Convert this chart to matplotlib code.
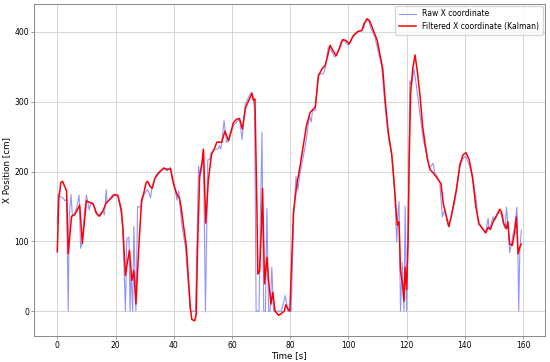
import matplotlib
matplotlib.use("Agg")
import matplotlib.pyplot as plt

raw_t = [0.0, 0.3, 1.0, 2.0, 2.6, 3.2, 3.75, 4.1, 4.7, 5.2, 6.5, 7.5, 8.0, 8.6, 9.4, 10.0,
         11.0, 11.6, 12.7, 14.0, 15.0, 15.6, 16.2, 16.8, 17.1, 17.9, 19.0, 20.8, 22.0, 22.5,
         23.4, 23.9, 24.6, 25.0, 25.3, 25.9, 26.3, 27.0, 27.6, 28.2, 28.6, 29.8, 30.9, 31.5,
         32.0, 32.6, 33.7, 34.8, 35.5, 36.4, 37.7, 38.9, 39.4, 40.0, 40.6, 41.1, 41.7, 42.3,
         42.8, 44.0, 45.1, 45.7, 46.8, 47.5, 48.5, 49.1, 49.7, 50.2, 50.9, 51.7, 52.3, 52.9,
         54.0, 55.2, 55.7, 56.2, 57.3, 58.1, 58.8, 60.5, 61.6, 62.6, 63.5, 64.0, 64.6, 66.6,
         67.4, 67.8, 68.3, 68.9, 69.3, 69.8, 70.3, 70.9, 71.5, 72.0, 72.6, 73.1, 73.7, 74.3,
         75.5, 77.0, 78.3, 79.2, 80.3, 81.3, 82.0, 82.7, 83.2, 84.3, 85.4, 86.6, 87.2, 87.7,
         88.6, 89.7, 91.4, 92.0, 93.1, 94.0, 95.4, 96.6, 97.7, 98.9, 100.0, 101.1, 102.9,
         104.6, 105.4, 106.1, 106.9, 108.0, 109.1, 110.3, 111.4, 112.6, 113.7, 114.9, 115.7,
         116.6, 117.0, 117.4, 117.9, 118.5, 119.1, 119.5, 120.0, 120.5, 121.1, 121.7, 122.5,
         123.2, 124.0, 124.8, 125.7, 126.9, 128.0, 129.1, 129.7, 130.5, 131.4, 132.3, 133.1,
         134.3, 135.4, 136.6, 138.3, 139.4, 140.3, 141.7, 142.9, 144.0, 144.6, 145.7, 146.9,
         147.4, 148.0, 148.3, 149.1, 149.7, 150.3, 151.4, 152.0, 152.6, 153.4, 153.9, 154.3,
         154.9, 155.4, 156.0, 156.6, 157.1, 157.9, 158.3, 158.5, 158.9, 159.4]
raw_x = [126, 168, 164, 162, 158, 160, 0, 136, 167, 136, 145, 166, 90, 99, 145, 166,
         145, 155, 150, 136, 141, 143, 138, 174, 155, 160, 167, 165, 140, 116,
         0, 104, 106, 0, 58, 0, 121, 0, 150, 149, 150, 167, 174, 170,
         162, 179, 191, 196, 200, 204, 201, 206, 189, 184, 172, 159, 172, 143,
         123, 92, 34, 0, 0, 0, 208, 193, 208, 232, 0, 217, 217, 227,
         232, 232, 237, 232, 273, 242, 244, 266, 271, 275, 246, 273, 297, 314,
         302, 285, 0, 0, 0, 140, 256, 0, 0, 147, 0, 0, 63, 0,
         0, 0, 22, 0, 0, 143, 193, 174, 193, 217, 242, 280, 271, 288,
         287, 340, 340, 347, 378, 374, 364, 374, 388, 386, 381, 390, 400,
         402, 407, 419, 417, 402, 393, 371, 352, 294, 251, 224, 188,
         99, 135, 157, 0, 70, 0, 150, 0, 101, 330, 323, 347,
         328, 301, 275, 246, 224, 205, 212, 198, 193, 183, 135, 145,
         123, 135, 159, 207, 219, 222, 207, 186, 157, 125, 120, 113,
         118, 133, 118, 125, 135, 130, 140, 142, 137, 123, 118, 149,
         120, 84, 96, 111, 120, 149, 67, 0, 87, 116]

kal_t = [0.0, 0.5, 1.2, 1.8, 2.6, 3.2, 3.75, 4.9, 6.0, 7.2, 7.7, 8.6, 10.0, 11.0, 12.3, 13.4,
         14.5, 15.6, 16.8, 18.0, 19.7, 20.8, 22.0, 22.5, 23.4, 24.2, 24.8, 25.6, 26.3, 27.0,
         28.2, 29.0, 29.6, 30.5, 31.0, 32.0, 32.6, 33.5, 34.3, 35.5, 36.6, 37.8, 38.9, 39.5,
         40.0, 41.1, 41.9, 42.5, 43.4, 44.3, 45.1, 45.7, 46.2, 47.2, 47.7, 48.2, 48.9, 49.7,
         50.2, 51.0, 51.9, 53.0, 53.9, 54.8, 56.5, 57.6, 58.8, 60.5, 61.6, 62.6, 63.6, 64.7,
         65.8, 66.9, 67.4, 67.9, 68.6, 68.9, 69.5, 70.1, 70.5, 71.2, 72.0, 72.6, 73.4, 74.0,
         74.8, 76.0, 77.1, 78.0, 78.5, 79.4, 79.9, 81.1, 82.2, 83.4, 84.5, 85.6, 86.9, 88.6,
         89.7, 90.9, 92.0, 92.6, 93.7, 94.6, 95.8, 96.9, 98.0, 99.1, 100.3, 101.7, 103.4,
         104.6, 105.4, 106.5, 107.4, 108.6, 109.9, 110.9, 111.8, 112.6, 113.7, 114.9, 115.7,
         116.3, 116.8, 117.4, 117.9, 118.6, 119.1, 119.5, 120.0, 120.5, 120.9, 121.4, 122.1,
         122.9, 123.7, 124.6, 125.5, 126.3, 127.2, 128.0, 128.9, 129.7, 130.9, 131.8, 132.6,
         133.7, 134.5, 135.4, 137.1, 138.3, 139.4, 140.4, 141.5, 142.6, 143.8, 144.9, 146.1,
         147.2, 148.0, 148.8, 149.7, 150.9, 152.0, 152.6, 153.4, 154.3, 154.8, 155.4, 156.3,
         157.1, 157.7, 158.3, 158.9, 159.4]
kal_x = [85, 160, 184, 186, 178, 172, 82, 136, 138, 148, 152, 97, 158, 156, 154, 140,
         136, 143, 155, 160, 167, 166, 145, 121, 51, 73, 87, 44, 58, 10,
         107, 160, 167, 184, 186, 178, 176, 190, 196, 201, 205, 203, 204, 191,
         181, 167, 163, 150, 121, 94, 43, 5, -12, -14, -5, 92, 193, 213,
         232, 126, 188, 225, 232, 242, 242, 258, 244, 270, 275, 276, 261, 292,
         302, 312, 302, 304, 140, 53, 58, 116, 176, 39, 77, 43, 10, 27,
         0, -6, -3, 0, 9, 2, 0, 140, 179, 208, 237, 266, 285, 292,
         337, 347, 352, 361, 381, 374, 366, 376, 389, 388, 383, 395, 401,
         402, 412, 419, 415, 402, 388, 366, 347, 304, 256, 224, 183,
         150, 123, 128, 58, 39, 14, 63, 31, 101, 222, 314, 347,
         367, 343, 309, 265, 241, 217, 203, 199, 195, 188, 183, 154,
         135, 121, 137, 174, 210, 224, 227, 217, 193, 149, 125, 118,
         112, 120, 117, 128, 137, 146, 142, 125, 118, 128, 96, 94,
         113, 135, 82, 92, 96]

fig, ax = plt.subplots(figsize=(5.5, 3.62), dpi=100)
fig.subplots_adjust(left=0.062, right=0.99, bottom=0.072, top=0.99)

ax.plot(raw_t, raw_x, color='#6666ff', lw=0.8, alpha=0.7, label='Raw X coordinate')
ax.plot(kal_t, kal_x, color='red', lw=1.1, label='Filtered X coordinate (Kalman)')

ax.set_xlabel('Time [s]', fontsize=6.3, labelpad=1)
ax.set_ylabel('X Position [cm]', fontsize=6.3, labelpad=2)
ax.set_xticks(range(0, 161, 20))
ax.set_yticks(range(0, 401, 100))
ax.grid(True, color='#d0d0d0', lw=0.6)
ax.tick_params(labelsize=5.5, length=2.2, width=0.5, pad=1.5, color='#777777')
for s in ax.spines.values():
    s.set_linewidth(0.7)
    s.set_color('#888888')
ax.legend(loc='upper right', fontsize=5.5, handlelength=2.2, borderpad=0.5,
          borderaxespad=0.25, handletextpad=0.8)

fig.savefig('out.png', dpi=100)
